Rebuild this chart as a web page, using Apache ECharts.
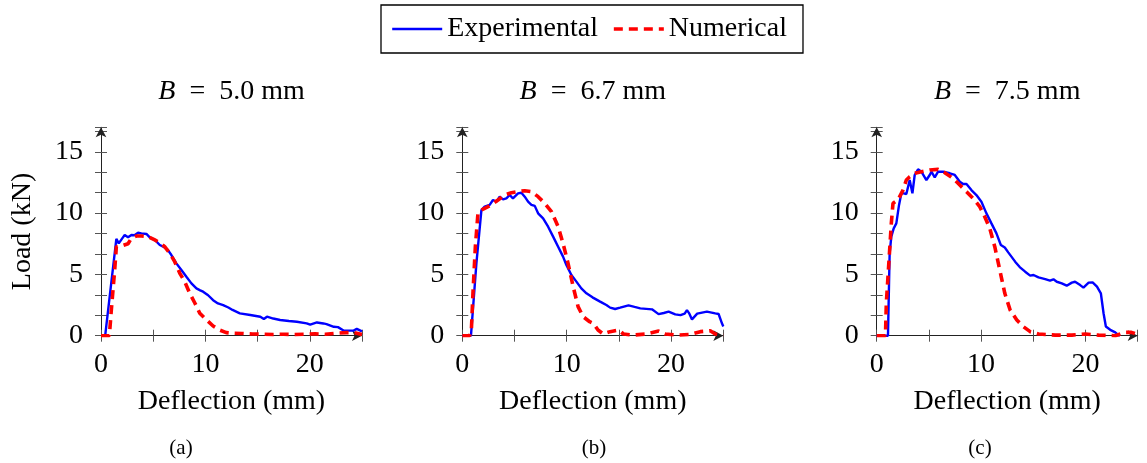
<!DOCTYPE html>
<html>
<head>
<meta charset="utf-8">
<script src="https://cdn.jsdelivr.net/npm/echarts@6/dist/echarts.min.js"></script>
<style>
html,body{margin:0;padding:0;background:#fff;}
#chart{width:1147px;height:463px;}
</style>
</head>
<body>
<div id="chart"></div>
<script>
// ---- data (deflection mm, load kN) ----
var expA = [[0,0],[0.4,0],[1.47,7.9],[1.7,7.53],[2.0,7.9],[2.27,8.21],[2.59,8.03],[2.91,8.21],[3.2,8.2],[3.55,8.4],[3.87,8.35],[4.35,8.3],[4.67,8.02],[5.15,7.81],[5.63,7.4],[5.95,7.27],[6.4,7.0],[6.74,6.58],[7.22,5.9],[7.7,5.36],[8.18,4.81],[8.66,4.27],[9.14,3.86],[9.5,3.7],[9.78,3.59],[10.26,3.3],[10.74,2.9],[11.2,2.63],[11.7,2.5],[12.2,2.3],[12.6,2.1],[13.3,1.82],[14.3,1.69],[15.26,1.55],[15.6,1.36],[15.9,1.55],[16.5,1.4],[17.16,1.28],[18.0,1.2],[18.76,1.14],[19.7,1.01],[20.04,0.9],[20.68,1.08],[21.3,1.0],[21.6,0.95],[22.3,0.73],[22.7,0.7],[23.23,0.43],[23.8,0.41],[24.2,0.42],[24.5,0.56],[25.0,0.35]];
var numA = [[0,0],[0.8,0],[0.99,2.1],[1.31,5.36],[1.47,7.26],[1.95,7.31],[2.59,7.5],[2.91,7.94],[3.39,8.13],[3.87,8.13],[4.5,8.08],[5.15,7.81],[5.63,7.59],[6.1,7.26],[6.6,6.72],[7.06,6.04],[7.55,5.09],[8.02,4.41],[8.5,3.46],[9.0,2.65],[9.46,1.83],[10.1,1.29],[10.74,0.79],[11.38,0.46],[12.0,0.25],[12.6,0.2],[13.5,0.18],[14.5,0.14],[15.5,0.12],[16.5,0.1],[17.5,0.12],[18.5,0.1],[19.5,0.12],[20.5,0.15],[21.5,0.12],[22.5,0.2],[23.5,0.25],[24.2,0.25],[25,0.1]];
var expB = [[0,0],[0.83,0],[1.35,5.9],[1.83,10.25],[2.14,10.53],[2.62,10.67],[2.94,11.07],[3.27,10.94],[3.58,11.34],[3.9,11.12],[4.22,11.2],[4.54,11.48],[4.85,11.2],[5.0,11.34],[5.34,11.61],[5.66,11.66],[5.98,11.34],[6.3,10.94],[6.62,10.67],[6.94,10.59],[7.26,9.98],[7.74,9.57],[8.22,8.89],[8.7,8.08],[9.18,7.26],[9.65,6.45],[9.97,5.77],[10.45,4.95],[10.93,4.41],[11.4,3.86],[11.89,3.46],[12.47,3.13],[13.2,2.78],[13.8,2.5],[14.16,2.29],[14.64,2.18],[15.12,2.29],[15.92,2.48],[16.5,2.35],[17.05,2.23],[18.17,2.15],[18.8,1.76],[19.3,1.85],[19.76,1.96],[20.4,1.74],[20.9,1.68],[21.3,1.8],[21.52,2.09],[21.75,1.8],[22.0,1.33],[22.5,1.8],[23.43,1.96],[24.23,1.82],[24.55,1.77],[24.87,1.01],[25.0,0.75]];
var numB = [[0,0],[0.7,0],[0.87,0.46],[1.02,3.46],[1.25,7.26],[1.5,9.98],[1.83,10.25],[2.14,10.39],[2.78,10.67],[3.42,11.07],[4.06,11.48],[4.7,11.66],[5.34,11.75],[5.98,11.83],[6.62,11.75],[7.26,11.34],[7.9,10.8],[8.54,10.12],[9.18,8.89],[9.65,7.53],[10.13,5.9],[10.62,4.0],[11.09,2.37],[11.57,1.55],[12.2,1.14],[12.56,1.0],[13.0,0.46],[13.5,0.14],[14.16,0.33],[14.96,0.46],[15.44,0.14],[16.4,0.05],[17.67,0.14],[18.8,0.38],[19.44,0.14],[20.56,0.05],[21.8,0.1],[22.8,0.33],[23.75,0.4],[24.23,0.14],[24.87,0.05],[25,0.05]];
var expC = [[0,0],[1.08,0],[1.24,6.72],[1.4,8.08],[1.63,8.76],[1.88,9.16],[2.14,10.67],[2.36,11.61],[2.58,11.61],[2.84,11.56],[3.16,12.7],[3.42,11.61],[3.64,13.11],[3.96,13.57],[4.28,13.38],[4.76,12.7],[5.08,13.11],[5.24,13.38],[5.56,12.92],[5.88,13.38],[6.36,13.38],[7.0,13.25],[7.48,13.11],[7.96,12.56],[8.28,12.37],[8.6,12.37],[9.07,11.88],[9.55,11.47],[10.03,10.93],[10.51,9.98],[10.99,9.16],[11.47,8.35],[11.89,7.4],[12.27,7.2],[12.6,6.8],[13.26,6.04],[13.7,5.6],[14.22,5.22],[14.7,4.9],[15.02,4.95],[15.5,4.76],[16.14,4.62],[16.6,4.49],[16.93,4.6],[17.25,4.4],[17.73,4.27],[18.2,4.08],[18.69,4.33],[19.0,4.4],[19.49,4.13],[19.8,3.92],[20.3,4.33],[20.68,4.35],[21.1,4.0],[21.47,3.46],[21.73,1.83],[21.95,0.75],[22.37,0.48],[22.85,0.27],[23.17,0.05],[23.3,0]];
var numC = [[0,0],[0.84,0],[0.92,2.64],[1.18,6.18],[1.4,9.16],[1.56,10.8],[2.04,11.07],[2.52,11.88],[2.84,12.7],[3.16,12.97],[3.64,13.25],[4.28,13.38],[5.08,13.52],[5.88,13.57],[6.52,13.3],[7.32,12.83],[7.96,12.29],[8.6,11.75],[9.23,11.2],[9.87,10.53],[10.35,9.71],[10.83,8.76],[11.31,7.26],[11.79,5.36],[12.27,3.46],[12.78,2.09],[13.42,1.28],[14.06,0.73],[14.7,0.33],[15.5,0.14],[17.1,0.05],[18.7,0.05],[20.0,0.14],[21.25,0.05],[22.85,0.0],[23.8,0.27],[24.4,0.27],[25.0,0.1]];

var panelTitles = ['5.0', '6.7', '7.5'];
var panelCaptions = ['(a)', '(b)', '(c)'];
var seriesNames = ['Experimental', 'Numerical'];
var xTickLabels = [0, 10, 20];
var yTickLabels = [0, 5, 10, 15];
var xLabel = 'Deflection (mm)';
var yLabel = 'Load (kN)';

var expData = [expA, expB, expC];
var numData = [numA, numB, numC];

// ---- layout ----
var FONT = 'Liberation Serif';
var FS = 28;
var gridLeft = [101, 462.3, 876.7];
var gridW = 261;
var gridTop = 127.3;
var gridH = 208.4;
var captionX = [181, 594, 980];

var grids = [], xAxes = [], yAxes = [], series = [], graphics = [];

function isIn(v, arr){ for (var i=0;i<arr.length;i++){ if (Math.abs(v-arr[i])<1e-6) return true; } return false; }

for (var p = 0; p < 3; p++) {
  grids.push({left: gridLeft[p], top: gridTop, width: gridW, height: gridH, containLabel: false});
  xAxes.push({
    type: 'value', gridIndex: p, position: 'bottom', min: 0, max: 25, interval: 5,
    splitLine: {show: false},
    axisLine: {show: true, onZero: false, symbol: ['none', 'arrow'], symbolSize: [8, 10], lineStyle: {color: '#222', width: 1}},
    axisTick: {show: true, inside: false, length: 6, lineStyle: {color: '#555', width: 1}},
    axisLabel: {show: true, margin: 15, color: '#000', fontFamily: FONT, fontSize: FS,
      formatter: function(v){ return isIn(v, xTickLabels) ? String(Math.round(v)) : ''; }},
    name: xLabel, nameLocation: 'middle', nameGap: 52,
    nameTextStyle: {color: '#000', fontFamily: FONT, fontSize: FS}
  });
  xAxes.push({
    type: 'value', gridIndex: p, position: 'bottom', offset: 0, min: 0, max: 25, interval: 5,
    splitLine: {show: false},
    axisLine: {show: false, onZero: false},
    axisTick: {show: true, inside: true, length: 6, lineStyle: {color: '#555', width: 1}},
    axisLabel: {show: false}
  });
  var yMain = {
    type: 'value', gridIndex: p, position: 'left', min: 0, max: 17, interval: 5/3,
    splitLine: {show: false},
    axisLine: {show: true, onZero: false, symbol: ['none', 'arrow'], symbolSize: [8, 10], lineStyle: {color: '#222', width: 1}},
    axisTick: {show: true, inside: false, length: 6, lineStyle: {color: '#555', width: 1}},
    axisLabel: {show: true, margin: 18, color: '#000', fontFamily: FONT, fontSize: FS,
      formatter: function(v){ return isIn(v, yTickLabels) ? String(Math.round(v)) : ''; }}
  };
  if (p === 0) {
    yMain.name = yLabel; yMain.nameLocation = 'middle'; yMain.nameGap = 64; yMain.nameRotate = 90;
    yMain.nameTextStyle = {color: '#000', fontFamily: FONT, fontSize: FS};
  }
  yAxes.push(yMain);
  yAxes.push({
    type: 'value', gridIndex: p, position: 'left', offset: 0, min: 0, max: 17, interval: 5/3,
    splitLine: {show: false},
    axisLine: {show: false, onZero: false},
    axisTick: {show: true, inside: true, length: 6, lineStyle: {color: '#555', width: 1}},
    axisLabel: {show: false}
  });
  series.push({
    name: seriesNames[0], type: 'line', xAxisIndex: 2*p, yAxisIndex: 2*p,
    data: expData[p], showSymbol: false, symbol: 'none', smooth: false, z: 3,
    lineStyle: {color: '#0000ff', width: 2.4, type: 'solid'}, itemStyle: {color: '#0000ff'}
  });
  series.push({
    name: seriesNames[1], type: 'line', xAxisIndex: 2*p, yAxisIndex: 2*p,
    data: numData[p], showSymbol: false, symbol: 'none', smooth: false, z: 4,
    lineStyle: {color: '#ff0000', width: 3.6, type: [9, 6]}, itemStyle: {color: '#ff0000'}
  });
  graphics.push({
    type: 'text', x: gridLeft[p] + gridW/2, y: 92,
    style: {
      text: '{i|B}\u2002=\u2002' + panelTitles[p] + ' mm',
      fill: '#000', font: FS + 'px "' + FONT + '"',
      align: 'center', verticalAlign: 'middle',
      rich: {i: {fontStyle: 'italic', fontFamily: FONT, fontSize: FS, fill: '#000'}}
    }
  });
  graphics.push({
    type: 'text', x: captionX[p], y: 448,
    style: {text: panelCaptions[p], fill: '#000', font: '21px "' + FONT + '"', align: 'center', verticalAlign: 'middle'}
  });
}

var chart = echarts.init(document.getElementById('chart'), null, {renderer: 'canvas'});
chart.setOption({
  animation: false,
  backgroundColor: '#fff',
  legend: {
    data: seriesNames, left: 381, top: 5, orient: 'horizontal',
    borderColor: '#000', borderWidth: 1.3, padding: [10, 16, 10, 10],
    itemGap: 14, itemWidth: 50, itemHeight: 14,
    itemStyle: {opacity: 0},
    lineStyle: {width: 'inherit'},
    textStyle: {color: '#000', fontFamily: FONT, fontSize: FS}
  },
  grid: grids,
  xAxis: xAxes,
  yAxis: yAxes,
  series: series,
  graphic: graphics
});
</script>
</body>
</html>
